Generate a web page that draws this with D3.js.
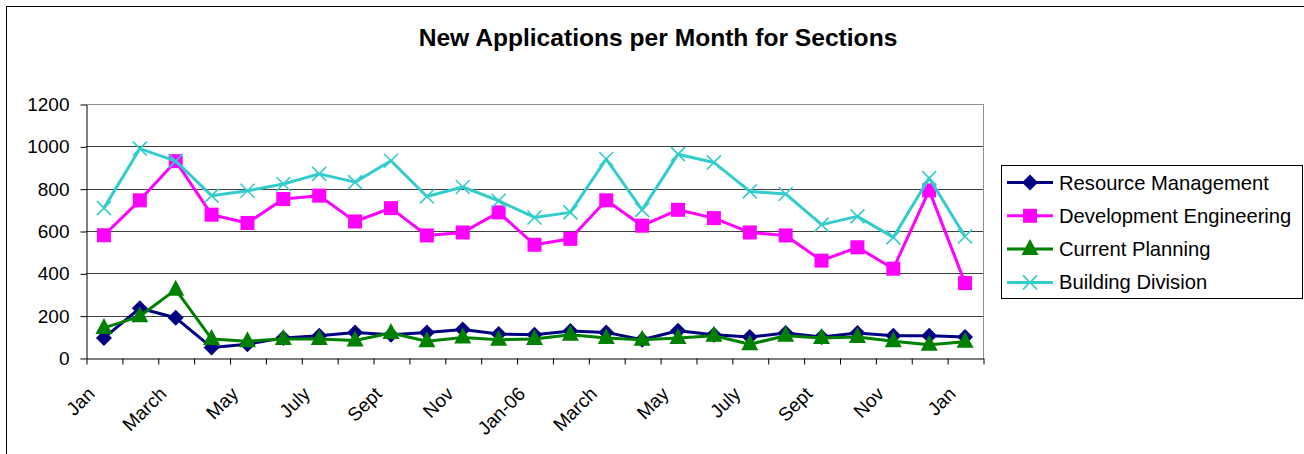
<!DOCTYPE html>
<html>
<head>
<meta charset="utf-8">
<script src="https://cdn.jsdelivr.net/npm/d3@7"></script>
<style>
  body { margin: 0; background: #fff; }
  text { font-family: "Liberation Sans", Arial, sans-serif; }
</style>
</head>
<body>
<div id="chart"></div>
<script>
// month labels (only every other one is shown on the axis)
var months = ["Jan", "Feb", "March", "April", "May", "June", "July", "Aug", "Sept", "Oct", "Nov", "Dec",
              "Jan-06", "Feb", "March", "April", "May", "June", "July", "Aug", "Sept", "Oct", "Nov", "Dec", "Jan"];
var yTicks = [0, 200, 400, 600, 800, 1000, 1200];

var resourceMgmt = [95, 235, 190, 50, 65, 95, 105, 120, 110, 120, 135, 113, 110, 128, 121, 86, 129, 110, 99, 118, 99, 118, 105, 105, 99];
var devEngineering = [580, 745, 930, 677, 638, 751, 767, 645, 708, 579, 593, 688, 535, 563, 745, 625, 700, 661, 593, 579, 460, 523, 422, 792, 354];
var currentPlanning = [142, 197, 323, 90, 79, 90, 90, 83, 118, 79, 97, 86, 90, 110, 94, 86, 94, 105, 65, 105, 94, 99, 79, 63, 77];
var buildingDiv = [708, 989, 930, 767, 790, 822, 870, 831, 932, 763, 808, 743, 664, 688, 940, 700, 963, 924, 787, 775, 630, 669, 570, 850, 574];

var seriesNames = ["Resource Management", "Development Engineering", "Current Planning", "Building Division"];

var series = [
    {name: seriesNames[0], values: resourceMgmt, color: "#000080", marker: "diamond"},
    {name: seriesNames[1], values: devEngineering, color: "#FF00FF", marker: "square"},
    {name: seriesNames[2], values: currentPlanning, color: "#008000", marker: "triangle"},
    {name: seriesNames[3], values: buildingDiv, color: "#33CCCC", marker: "cross"}
];

var width = 1304, height = 454;
var plot = {left: 86, right: 983, top: 104, bottom: 358};

var svg = d3.select("#chart").append("svg")
    .attr("width", width)
    .attr("height", height);

// outer chart border (only left/top visible)
svg.append("rect")
    .attr("x", 6.5).attr("y", 6.5)
    .attr("width", 1310).attr("height", 460)
    .style("fill", "none").style("stroke", "#000").style("stroke-width", 1);

// title
svg.append("text")
    .attr("x", 658).attr("y", 46)
    .attr("text-anchor", "middle")
    .style("font-size", "24.6px").style("font-weight", "bold")
    .text("New Applications per Month for Sections");

var x = d3.scaleBand()
    .domain(d3.range(months.length))
    .range([plot.left, plot.right]);

var xEdge = d3.scaleLinear()
    .domain([0, months.length])
    .range([plot.left, plot.right]);

var y = d3.scaleLinear()
    .domain([0, 1200])
    .range([plot.bottom, plot.top]);

// gridlines
svg.append("g")
    .selectAll("line")
    .data(yTicks.slice(1))
    .enter().append("line")
    .attr("x1", plot.left).attr("x2", plot.right)
    .attr("y1", d => Math.round(y(d)) + 0.5).attr("y2", d => Math.round(y(d)) + 0.5)
    .style("stroke", d => d == 1200 ? "#909090" : "#404040")
    .style("stroke-width", 1);

// right border of plot area
svg.append("line")
    .attr("x1", plot.right + 0.5).attr("x2", plot.right + 0.5)
    .attr("y1", plot.top).attr("y2", plot.bottom)
    .style("stroke", "#909090");

// y axis
var yAxis = svg.append("g")
    .attr("transform", "translate(" + (plot.left + 0.5) + ",0.5)")
    .call(d3.axisLeft(y).tickValues(yTicks).tickFormat(d3.format("d"))
        .tickSize(6).tickSizeOuter(0).tickPadding(11));
yAxis.selectAll("text").style("font-size", "19px").style("fill", "#000").attr("font-family", null);
yAxis.selectAll("line, path").style("stroke", "#000");

// x axis with ticks between categories
var xAxis = svg.append("g")
    .attr("transform", "translate(0.5," + (plot.bottom + 0.5) + ")")
    .call(d3.axisBottom(xEdge).tickValues(d3.range(months.length + 1)).tickSize(6).tickSizeOuter(0).tickFormat(""));
xAxis.selectAll("line, path").style("stroke", "#000");

// rotated month labels, every other month
svg.append("g")
    .selectAll("text")
    .data(d3.range(0, months.length, 2))
    .enter().append("text")
    .attr("transform", i => "translate(" + (x(i) + x.bandwidth() / 2 - 8) + ",395) rotate(-45)")
    .attr("text-anchor", "end")
    .style("font-size", "19px")
    .text(i => months[i]);

// lines and markers
var line = d3.line()
    .x((d, i) => x(i) + x.bandwidth() / 2)
    .y(d => y(d));

function drawMarker(g, type, color) {
    if (type == "diamond") {
        g.append("path").attr("d", "M0,-8L8,0L0,8L-8,0Z").style("fill", color);
    } else if (type == "square") {
        g.append("rect").attr("x", -7).attr("y", -7).attr("width", 14).attr("height", 14).style("fill", color);
    } else if (type == "triangle") {
        g.append("path").attr("d", "M0,-10L8.5,6L-8.5,6Z").style("fill", color);
    } else {
        g.append("path").attr("d", "M-7,-7L7,7M-7,7L7,-7")
            .style("stroke", color).style("stroke-width", 1.6).style("fill", "none");
    }
}

series.forEach(function(s) {
    svg.append("path")
        .datum(s.values)
        .attr("d", line)
        .style("fill", "none")
        .style("stroke", s.color)
        .style("stroke-width", 3)
        .style("stroke-linejoin", "round");

    svg.append("g")
        .selectAll("g")
        .data(s.values)
        .enter().append("g")
        .attr("transform", (d, i) => "translate(" + (x(i) + x.bandwidth() / 2) + "," + y(d) + ")")
        .each(function() { drawMarker(d3.select(this), s.marker, s.color); });
});

// legend
var legend = svg.append("g").attr("transform", "translate(1001,165)");
legend.append("rect")
    .attr("x", 0.5).attr("y", 0.5)
    .attr("width", 301).attr("height", 133)
    .style("fill", "#fff").style("stroke", "#000");

var item = legend.selectAll(".item")
    .data(series)
    .enter().append("g")
    .attr("class", "item")
    .attr("transform", (d, i) => "translate(0," + (17.5 + i * 33.3) + ")");

item.append("line")
    .attr("x1", 6).attr("x2", 52)
    .style("stroke", d => d.color).style("stroke-width", 3);
item.append("g")
    .attr("transform", "translate(29,0)")
    .each(function(d) { drawMarker(d3.select(this), d.marker, d.color); });
item.append("text")
    .attr("x", 58).attr("y", 7)
    .style("font-size", "20.2px")
    .text(d => d.name);
</script>
</body>
</html>
